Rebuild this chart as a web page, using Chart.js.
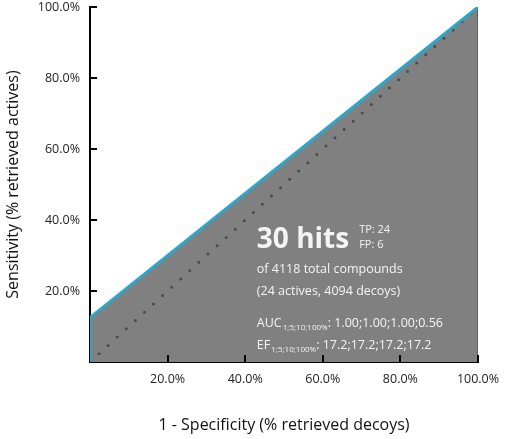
<!DOCTYPE html>
<html>
<head>
<meta charset="utf-8">
<script src="https://cdn.jsdelivr.net/npm/chart.js@4"></script>
<style>
  html, body { margin: 0; padding: 0; background: #fff; }
  #wrap { width: 505px; height: 439px; }
</style>
</head>
<body>
<div id="wrap"><canvas id="canvas_roc" width="505" height="439"></canvas></div>
<script>
// ROC curve data (percent)
var roc_x = [0, 0, 100];      // 1 - specificity
var roc_y = [0, 12.5, 100];   // sensitivity
var rand_x = [0, 100];        // random classifier diagonal
var rand_y = [0, 100];
var tick_values = [20, 40, 60, 80, 100];

// annotation text
var hits_label = "30 hits";
var tp_label = "TP: 24";
var fp_label = "FP: 6";
var info_lines = ["of 4118 total compounds", "(24 actives, 4094 decoys)"];
var auc_label = ["AUC", "1;5;10;100%", ": 1.00;1.00;1.00;0.56"];
var ef_label = ["EF", "1;5;10;100%", ": 17.2;17.2;17.2;17.2"];

var FONT = "'Open Sans', 'Noto Sans', sans-serif";

function toPoints(xs, ys) {
  return xs.map(function (x, i) { return {x: x, y: ys[i]}; });
}

// inward tick marks + text box
var overlay = {
  id: 'overlay',
  afterDatasetsDraw: function (chart) {
    var ctx = chart.ctx;
    var xs = chart.scales.x, ys = chart.scales.y;
    var area = chart.chartArea;
    ctx.save();
    ctx.strokeStyle = '#000';
    ctx.lineWidth = 2;
    tick_values.forEach(function (v) {
      var px = Math.round(xs.getPixelForValue(v));
      ctx.beginPath();
      ctx.moveTo(px, area.bottom);
      ctx.lineTo(px, area.bottom - 7);
      ctx.stroke();
      var py = Math.round(ys.getPixelForValue(v));
      ctx.beginPath();
      ctx.moveTo(area.left, py);
      ctx.lineTo(area.left + 7, py);
      ctx.stroke();
    });

    var left = xs.getPixelForValue(43);
    ctx.fillStyle = '#f4f4f4';
    ctx.textAlign = 'left';
    ctx.textBaseline = 'alphabetic';
    ctx.font = 'bold 28px ' + FONT;
    ctx.fillText(hits_label, left, 248);
    var w = ctx.measureText(hits_label).width;
    ctx.font = '11px ' + FONT;
    ctx.fillText(tp_label, left + w + 10, 233);
    ctx.fillText(fp_label, left + w + 10, 248);

    ctx.font = '12.5px ' + FONT;
    ctx.fillText(info_lines[0], left, 273);
    ctx.fillText(info_lines[1], left, 295);

    [[auc_label, 327], [ef_label, 349]].forEach(function (r) {
      var parts = r[0], base = r[1], x = left;
      ctx.font = '12.5px ' + FONT;
      ctx.fillText(parts[0], x, base);
      x += ctx.measureText(parts[0]).width + 1;
      ctx.font = '8px ' + FONT;
      ctx.fillText(parts[1], x, base + 3);
      x += ctx.measureText(parts[1]).width;
      ctx.font = '12.5px ' + FONT;
      ctx.fillText(parts[2], x, base);
    });
    ctx.restore();
  }
};

var chart = new Chart(document.getElementById('canvas_roc'), {
  type: 'scatter',
  data: {
    datasets: [
      {
        label: 'area',
        data: toPoints(roc_x.concat([100]), roc_y.concat([0])),
        showLine: true,
        fill: 'origin',
        backgroundColor: '#808080',
        borderColor: '#5a5a5a',
        borderWidth: 1,
        pointRadius: 0,
        tension: 0,
        order: 3
      },
      {
        label: 'random',
        data: toPoints(rand_x, rand_y),
        showLine: true,
        fill: false,
        borderColor: '#4a4a4a',
        borderWidth: 3,
        borderDash: [0, 12.3],
        borderCapStyle: 'round',
        pointRadius: 0,
        order: 2
      },
      {
        label: 'ROC',
        data: toPoints(roc_x, roc_y),
        showLine: true,
        fill: false,
        borderColor: '#2ba7cd',
        borderWidth: 3,
        pointRadius: 0,
        tension: 0,
        order: 1
      }
    ]
  },
  options: {
    responsive: false,
    animation: false,
    layout: { padding: { top: 7, right: 27, left: 0, bottom: 0 } },
    plugins: { legend: { display: false }, tooltip: { enabled: false } },
    scales: {
      x: {
        type: 'linear', min: 0, max: 100,
        grid: { drawOnChartArea: false, drawTicks: false },
        border: { color: '#000', width: 2 },
        ticks: {
          stepSize: 20, padding: 10, color: '#222',
          font: { family: FONT, size: 12.5 },
          callback: function (v) { return v === 0 ? '' : v.toFixed(1) + '%'; }
        },
        title: {
          display: true, text: '1 - Specificity (% retrieved decoys)',
          color: '#111', font: { family: FONT, size: 16 }, padding: { top: 20 }
        },
        afterFit: function (s) { s.height = 77; s.paddingLeft = 0; s.paddingRight = 0; }
      },
      y: {
        type: 'linear', min: 0, max: 100,
        grid: { drawOnChartArea: false, drawTicks: false },
        border: { color: '#000', width: 2 },
        ticks: {
          stepSize: 20, padding: 10, color: '#222',
          font: { family: FONT, size: 12.5 },
          callback: function (v) { return v === 0 ? '' : v.toFixed(1) + '%'; }
        },
        title: {
          display: true, text: 'Sensitivity (% retrieved actives)',
          color: '#111', font: { family: FONT, size: 16 }, padding: { bottom: 4 }
        },
        afterFit: function (s) { s.width = 90; s.paddingTop = 0; s.paddingBottom = 0; }
      }
    }
  },
  plugins: [overlay]
});
</script>
</body>
</html>
